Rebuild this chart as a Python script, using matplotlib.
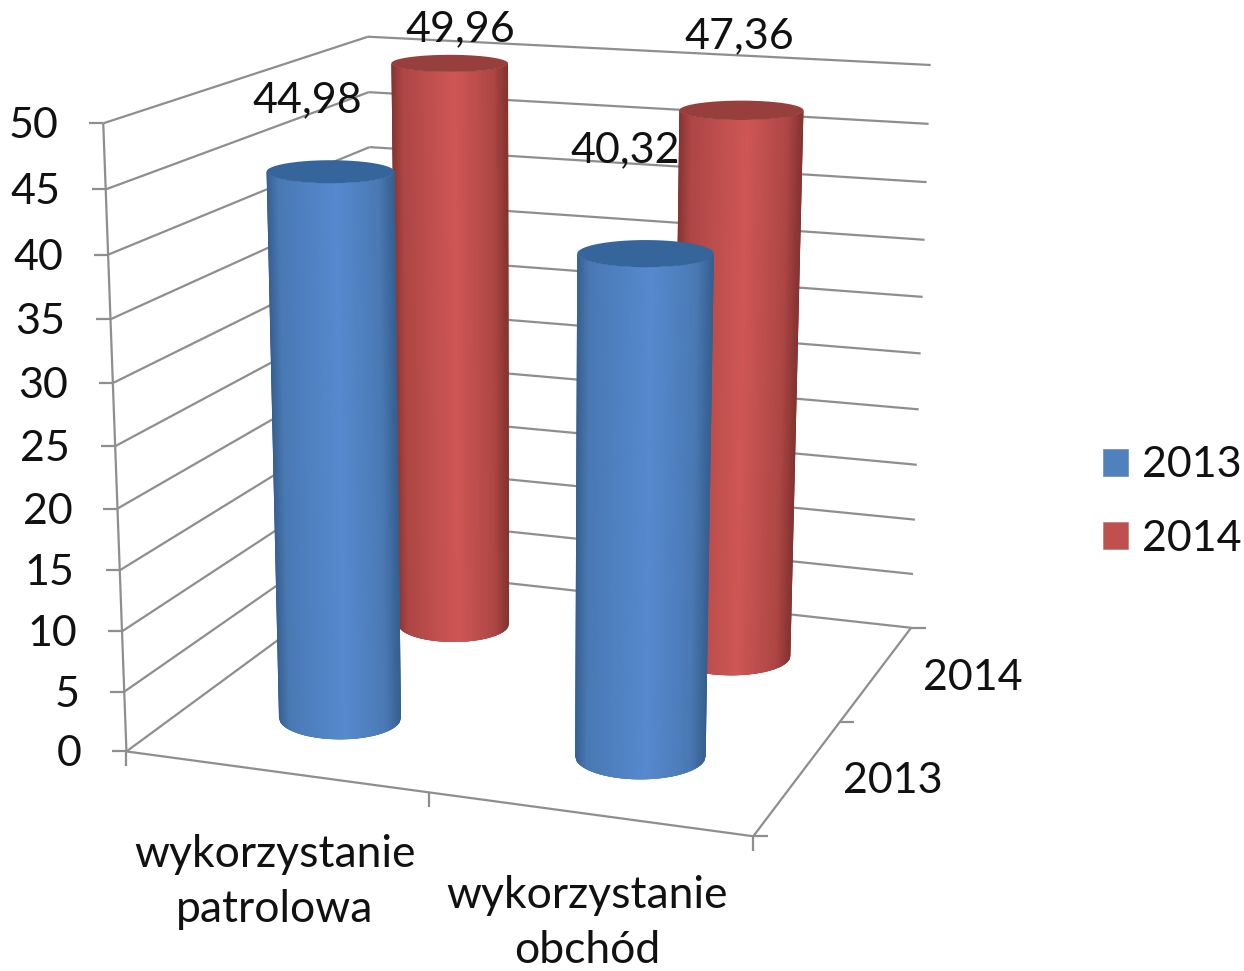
import numpy as np
import matplotlib
matplotlib.use("Agg")
import matplotlib.pyplot as plt
from matplotlib.collections import PolyCollection
from matplotlib.colors import to_rgb
from matplotlib.patches import Patch

# ---------- data ----------
categories = ["wykorzystanie\npatrolowa", "wykorzystanie\nobchód"]
series_names = ["2013", "2014"]
values_2013 = [44.98, 40.32]
values_2014 = [49.96, 47.36]
value_ticks = [0, 5, 10, 15, 20, 25, 30, 35, 40, 45, 50]

plt.rcParams["font.family"] = ["Lato", "DejaVu Sans"]
FS = 31
FS_CAT = 32
TXT = "#111111"
GRID = "#8e8e8e"
W, H = 1244, 971

# ---------- camera: (category, depth, value) -> pixel, fitted on the plot box corners ----------
box = [((0, 0, 0), (126, 752)), ((0, 0, 50), (104, 123)), ((0, 1, 50), (367, 37)),
       ((1, 1, 50), (931, 65)), ((1, 1, 0), (911, 628)), ((1, 0, 0), (753, 836)),
       ((0, 1, 0), (376, 568))]
A, b = [], []
for (x, y, z), (u, v) in box:
    A.append([x, y, z, 1, 0, 0, 0, 0, -u * x, -u * y, -u * z]); b.append(u)
    A.append([0, 0, 0, 0, x, y, z, 1, -v * x, -v * y, -v * z]); b.append(v)
P = np.append(np.linalg.lstsq(np.array(A, float), np.array(b, float), rcond=None)[0], 1).reshape(3, 4)


def project(x, y, z):
    x, y, z = np.broadcast_arrays(np.asarray(x, float), np.asarray(y, float), np.asarray(z, float))
    h = np.stack([x, y, z, np.ones_like(x, dtype=float)], axis=-1)
    q = h @ P.T
    return q[..., 0] / q[..., 2], q[..., 1] / q[..., 2]


fig = plt.figure(figsize=(W / 100, H / 100), dpi=100)
ax = fig.add_axes([0, 0, 1, 1])
ax.set_xlim(0, W)
ax.set_ylim(H, 0)
ax.axis("off")


def seg(p0, p1, lw=1.6):
    xs, ys = project(*np.array([p0, p1], float).T)
    ax.plot(xs, ys, color=GRID, lw=lw, solid_capstyle="butt", zorder=1)


def tick(p, dx, dy):
    x0, y0 = project(*p)
    ax.plot([x0, x0 + dx], [y0, y0 + dy], color=GRID, lw=1.6, solid_capstyle="butt", zorder=1)


# walls
for t in value_ticks:
    seg((0, 0, t), (0, 1, t))
    seg((0, 1, t), (1, 1, t))
    tick((0, 0, t), -14, 0)
    xl, yl = project(0, 0, t)
    ax.text(xl - 45, yl + 3, str(t), ha="right", va="center", fontsize=FS, color=TXT, zorder=6)
seg((0, 0, 0), (0, 0, 50))
seg((0, 0, 0), (1, 0, 0))
seg((1, 0, 0), (1, 1, 0))
for c in (0, 0.5, 1):
    tick((c, 0, 0), 0, 15)
for d in (0, 0.5, 1):
    tick((1, d, 0), 15, 0)


# ---------- cylinders ----------
def shade(col_dark, col_mid, col_bright, u):
    stops = [0, 0.1, 0.55, 0.88, 1]
    cols = np.array([to_rgb(col_dark), to_rgb(col_mid), to_rgb(col_bright), to_rgb(col_mid), to_rgb(col_dark)])
    return [np.interp(u, stops, cols[:, i]) for i in range(3)]


STYLE = {
    "2013": dict(dark="#355f90", mid="#4a79b4", bright="#5689cf", top="#36659b", rx=0.105),
    "2014": dict(dark="#843331", mid="#ad4644", bright="#cf5755", top="#963f3d", rx=0.103),
}
RY = 0.105


def ellipse_axes(cx, cy, z, rx):
    xa, _ = project([cx - rx, cx + rx], cy, z)
    _, yb = project(cx, [cy - RY, cy + RY], z)
    x0, y0 = project(cx, cy, z)
    return float(x0), float(y0), abs(xa[1] - xa[0]) / 2, abs(yb[1] - yb[0]) / 2


def cylinder(cat, dep, value, st, zorder):
    cx, cy = (cat + 0.5) / 2, (dep + 0.5) / 2
    xb, yb, ab, eb = ellipse_axes(cx, cy, 0, st["rx"])
    xt, yt, at, et = ellipse_axes(cx, cy, value, st["rx"])
    # strips of equal screen width, left to right over the front half (screen y points down)
    th = np.arccos(np.linspace(-1, 1, 91))
    bx, by = xb + ab * np.cos(th), yb + eb * np.sin(th)
    tx, ty = xt + at * np.cos(th), yt + et * np.sin(th)
    # solid silhouette underneath gives one clean outer edge; strips are clipped to it
    sil_x = np.concatenate([bx, tx[::-1]])
    sil_y = np.concatenate([by, ty[::-1]])
    sil = ax.fill(sil_x, sil_y, color=st["dark"], lw=0, zorder=zorder)[0]
    polys, cols = [], []
    for i in range(len(th) - 1):
        polys.append([(bx[i], by[i]), (bx[i + 1], by[i + 1]), (tx[i + 1], ty[i + 1]), (tx[i], ty[i])])
        cols.append(shade(st["dark"], st["mid"], st["bright"], (i + 0.5) / (len(th) - 1)))
    pc = PolyCollection(polys, facecolors=cols, edgecolors=cols, linewidths=1.0, zorder=zorder + 0.05,
                        joinstyle="bevel")
    pc.set_snap(False)
    ax.add_collection(pc)
    pc.set_clip_path(sil)
    full = np.linspace(0, 2 * np.pi, 181)
    ax.fill(xt + at * np.cos(full), yt + et * np.sin(full), color=st["top"], lw=0, zorder=zorder + 0.1)


rows = [(1, "2014", values_2014), (0, "2013", values_2013)]
for dep, name, vals in rows:
    for cat, v in enumerate(vals):
        cylinder(cat, dep, v, STYLE[name], 3 + (1 - dep) * 2 + cat * 0.5)

# ---------- data labels ----------
label_pos = {("2013", 0): (307, 100), ("2014", 0): (460, 29), ("2013", 1): (625, 150), ("2014", 1): (739, 36)}
for dep, name, vals in rows:
    for cat, v in enumerate(vals):
        px, py = label_pos[(name, cat)]
        ax.text(px, py, f"{v:.2f}".replace(".", ","), ha="center", va="center", fontsize=FS,
                color=TXT, zorder=8)

# ---------- axis labels ----------
for lab, (px, py) in zip(categories, [(275, 882), (587, 923)]):
    ax.text(px, py, lab, ha="center", va="center", fontsize=FS_CAT, color=TXT, linespacing=1.45, zorder=8)
for lab, (px, py) in zip(series_names, [(893, 781), (973, 678)]):
    ax.text(px, py, lab, ha="center", va="center", fontsize=FS, color=TXT, zorder=8)

# ---------- legend ----------
handles = [Patch(facecolor="#4f81bd", edgecolor="#7f94ad", lw=0.6, label="2013"),
           Patch(facecolor="#c0504d", edgecolor="#b58785", lw=0.6, label="2014")]
ax.legend(handles=handles, loc="center left", bbox_to_anchor=(1103 / W, 1 - 502 / H), frameon=False,
          fontsize=FS, handlelength=0.58, handleheight=0.58, handletextpad=0.33, labelspacing=0.82,
          borderpad=0, borderaxespad=0, labelcolor=TXT)

fig.savefig("out.png", dpi=100, facecolor="white")
